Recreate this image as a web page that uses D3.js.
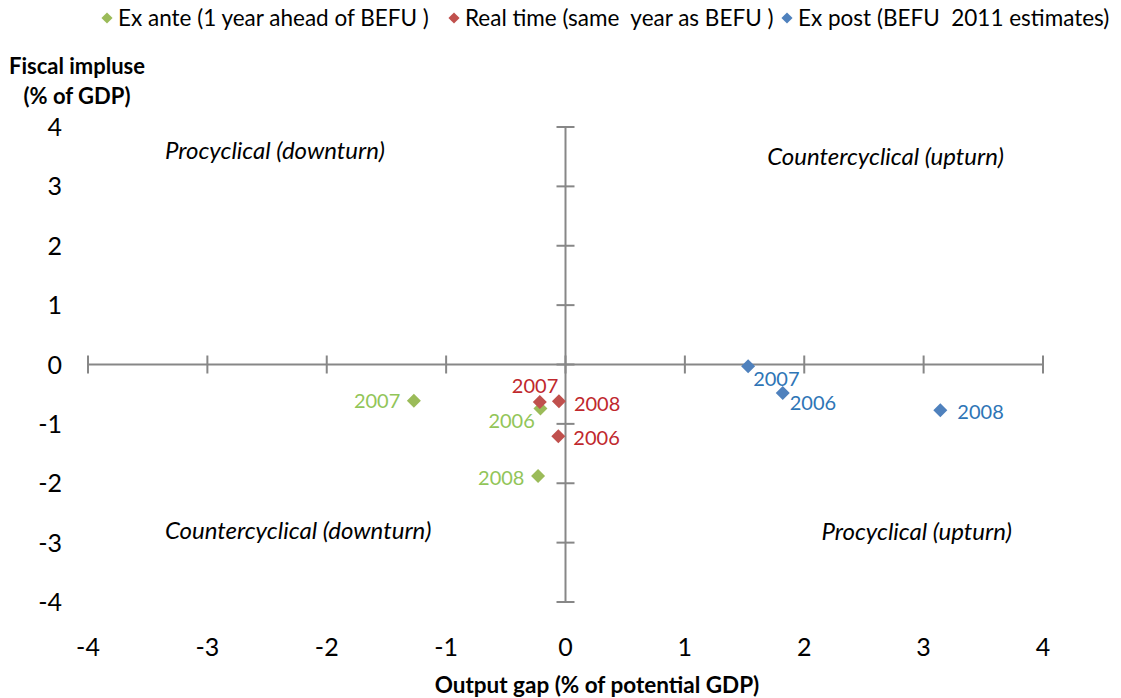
<!DOCTYPE html>
<html>
<head>
<meta charset="utf-8">
<script src="https://cdn.jsdelivr.net/npm/d3@7"></script>
<style>
  html, body { margin: 0; padding: 0; background: #fff; }
  svg { display: block; font-family: Lato, "Open Sans", sans-serif; }
</style>
</head>
<body>
<svg id="chart" width="1121" height="698"></svg>
<script>
// Series: output gap (x) vs fiscal impulse (y), % of GDP
const years = ["2006", "2007", "2008"];
const exAnteX = [-0.21, -1.27, -0.23];
const exAnteY = [-0.74, -0.61, -1.88];
const realTimeX = [-0.06, -0.215, -0.055];
const realTimeY = [-1.21, -0.63, -0.62];
const exPostX = [1.82, 1.53, 3.14];
const exPostY = [-0.48, -0.03, -0.77];
const seriesNames = ["Ex ante (1 year ahead of BEFU )", "Real time (same  year as BEFU )", "Ex post (BEFU  2011 estimates)"];
const xTicks = [-4, -3, -2, -1, 0, 1, 2, 3, 4];
const yTicks = [-4, -3, -2, -1, 0, 1, 2, 3, 4];
const quadrantLabels = ["Procyclical (downturn)", "Countercyclical (upturn)", "Countercyclical (downturn)", "Procyclical (upturn)"];

const svg = d3.select("#chart");
const x = d3.scaleLinear().domain([-4, 4]).range([88, 1043]);
const y = d3.scaleLinear().domain([-4, 4]).range([602, 127]);

const axisColor = "#878787";

// horizontal axis through y = 0
svg.append("line").attr("x1", x(-4)).attr("x2", x(4)).attr("y1", y(0)).attr("y2", y(0))
  .attr("stroke", axisColor).attr("stroke-width", 2);
svg.selectAll(".xt").data(xTicks).join("line")
  .attr("x1", d => x(d)).attr("x2", d => x(d)).attr("y1", y(0) - 9).attr("y2", y(0) + 9)
  .attr("stroke", axisColor).attr("stroke-width", 2);

// vertical axis through x = 0
svg.append("line").attr("x1", x(0)).attr("x2", x(0)).attr("y1", y(4)).attr("y2", y(-4))
  .attr("stroke", axisColor).attr("stroke-width", 2);
svg.selectAll(".yt").data(yTicks).join("line")
  .attr("x1", x(0) - 9).attr("x2", x(0) + 9).attr("y1", d => y(d)).attr("y2", d => y(d))
  .attr("stroke", axisColor).attr("stroke-width", 2);

// tick labels at the chart edges
svg.selectAll(".xl").data(xTicks).join("text")
  .attr("x", d => x(d)).attr("y", 656).attr("text-anchor", "middle")
  .attr("font-size", 25).attr("fill", "#000").text(d => d);
svg.selectAll(".yl").data(yTicks).join("text")
  .attr("x", 62).attr("y", d => y(d) + 9).attr("text-anchor", "end")
  .attr("font-size", 25).attr("fill", "#000").text(d => d);

// axis titles
svg.append("text").attr("x", 77).attr("y", 74).attr("text-anchor", "middle")
  .attr("font-size", 22).attr("font-weight", "bold").text("Fiscal impluse");
svg.append("text").attr("x", 77).attr("y", 104).attr("text-anchor", "middle")
  .attr("font-size", 22).attr("font-weight", "bold").text("(% of GDP)");
svg.append("text").attr("x", 597).attr("y", 693).attr("text-anchor", "middle")
  .attr("font-size", 22.5).attr("font-weight", "bold").text("Output gap (% of potential GDP)");

// quadrant annotations
const qPos = [[165, 159, "start"], [1004, 165, "end"], [165, 539, "start"], [1012, 540, "end"]];
svg.selectAll(".q").data(quadrantLabels).join("text")
  .attr("x", (d, i) => qPos[i][0]).attr("y", (d, i) => qPos[i][1])
  .attr("text-anchor", (d, i) => qPos[i][2])
  .attr("font-size", 24).attr("font-style", "italic").attr("fill", "#000").text(d => d);

// series
const series = [
  { xs: exAnteX, ys: exAnteY, color: "#9BBB59", label: "#92C558",
    off: [[-52, 20], [-60, 7], [-60, 9]] },
  { xs: realTimeX, ys: realTimeY, color: "#C0504D", label: "#C0282D",
    off: [[15, 9], [-28, -9], [15, 10]] },
  { xs: exPostX, ys: exPostY, color: "#4F81BD", label: "#2E75B6",
    off: [[7, 17], [5, 20], [17, 9]] }
];
const diamond = d3.symbol().type(d3.symbolSquare).size(98);

series.forEach(s => {
  const pts = years.map((yr, i) => ({ yr, vx: s.xs[i], vy: s.ys[i], i }));
  svg.append("g").selectAll("path").data(pts).join("path")
    .attr("d", diamond)
    .attr("transform", d => `translate(${x(d.vx)},${y(d.vy)}) rotate(45)`)
    .attr("fill", s.color);
  svg.append("g").selectAll("text").data(pts).join("text")
    .attr("x", d => x(d.vx) + s.off[d.i][0]).attr("y", d => y(d.vy) + s.off[d.i][1])
    .attr("font-size", 20).attr("fill", s.label).text(d => d.yr);
});

// legend
const legendX = [107, 454, 787];
const legendColors = ["#9BBB59", "#C0504D", "#4F81BD"];
const lg = svg.append("g");
seriesNames.forEach((name, i) => {
  lg.append("path").attr("d", d3.symbol().type(d3.symbolSquare).size(62))
    .attr("transform", `translate(${legendX[i]},18) rotate(45)`).attr("fill", legendColors[i]);
  lg.append("text").attr("x", legendX[i] + 11).attr("y", 26).attr("font-size", 22.5)
    .attr("fill", "#000").style("white-space", "pre").attr("xml:space", "preserve").text(name);
});
</script>
</body>
</html>
